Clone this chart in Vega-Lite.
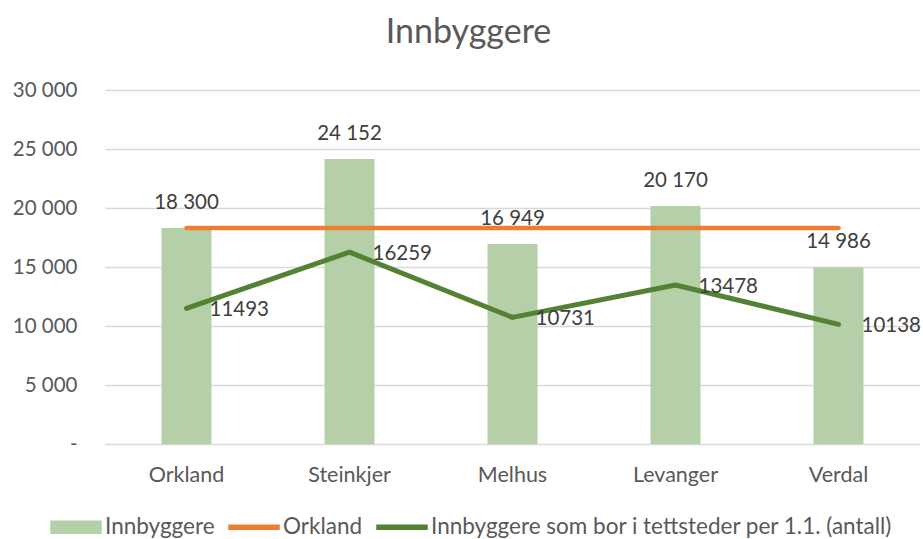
{
  "$schema": "https://vega.github.io/schema/vega-lite/v6.json",
  "autosize": {"type": "none"},
  "width": 815,
  "height": 354,
  "padding": {"left": 105, "top": 90, "right": 3, "bottom": 95},
  "background": "white",
  "config": {
    "font": "Lato",
    "view": {"stroke": null},
    "locale": {"number": {"decimal": ",", "thousands": " ", "grouping": [3], "currency": ["", " kr"]}}
  },
  "title": {
    "text": "Innbyggere",
    "fontSize": 34,
    "fontWeight": "normal",
    "color": "#595959",
    "font": "Lato",
    "anchor": "middle",
    "offset": 30,
    "dx": -44
  },
  "data": {
    "values": [
      {"kommune": "Orkland", "innbyggere": 18300, "orkland": 18300, "tettsted": 11493},
      {"kommune": "Steinkjer", "innbyggere": 24152, "orkland": 18300, "tettsted": 16259},
      {"kommune": "Melhus", "innbyggere": 16949, "orkland": 18300, "tettsted": 10731},
      {"kommune": "Levanger", "innbyggere": 20170, "orkland": 18300, "tettsted": 13478},
      {"kommune": "Verdal", "innbyggere": 14986, "orkland": 18300, "tettsted": 10138}
    ]
  },
  "encoding": {
    "x": {
      "field": "kommune",
      "type": "nominal",
      "sort": null,
      "scale": {"paddingInner": 0, "paddingOuter": 0},
      "axis": {
        "title": null,
        "labelAngle": 0,
        "labelFontSize": 21.5,
        "labelColor": "#595959",
        "labelPadding": 20,
        "ticks": false,
        "domain": false,
        "grid": false
      }
    }
  },
  "layer": [
    {
      "mark": {"type": "bar", "size": 50},
      "encoding": {
        "y": {
          "field": "innbyggere",
          "type": "quantitative",
          "scale": {"domain": [0, 30000], "nice": false},
          "axis": {
            "title": null,
            "values": [0, 5000, 10000, 15000, 20000, 25000, 30000],
            "labelExpr": "datum.value === 0 ? '-' : format(datum.value, ',')",
            "labelFontSize": 20.5,
            "labelColor": "#595959",
            "labelPadding": 28,
            "ticks": false,
            "domain": false,
            "gridColor": "#d9d9d9",
            "gridWidth": 1.5
          }
        },
        "color": {
          "datum": "Innbyggere",
          "scale": {
            "domain": ["Innbyggere", "Orkland", "Innbyggere som bor i tettsteder per 1.1. (antall)"],
            "range": ["#b5cfa8", "#ed7d31", "#548235"]
          },
          "legend": {
            "title": null,
            "orient": "none",
            "direction": "horizontal",
            "legendX": -55,
            "legendY": 411,
            "labelFontSize": 22.5,
            "labelColor": "#595959",
            "labelOffset": 3,
            "labelLimit": 0,
            "columnPadding": 11,
            "symbolSize": 2500,
            "padding": 0,
            "encode": {
              "symbols": {
                "update": {
                  "shape": {"signal": "datum.value === 'Innbyggere' ? 'M-1,-0.24H1V0.24H-1Z' : 'M-1,-0.08H1V0.08H-1Z'"},
                  "size": {"value": 2500},
                  "fill": {"scale": "color", "field": "value"},
                  "stroke": {"value": "transparent"},
                  "opacity": {"value": 1}
                }
              }
            }
          }
        }
      }
    },
    {
      "mark": {"type": "text", "baseline": "middle", "dy": -25, "fontSize": 20.5, "color": "#404040"},
      "encoding": {
        "y": {"field": "innbyggere", "type": "quantitative"},
        "text": {"field": "innbyggere", "type": "quantitative", "format": ","}
      }
    },
    {
      "mark": {"type": "line", "strokeWidth": 4.5, "strokeCap": "round", "color": "#ed7d31"},
      "encoding": {
        "y": {"field": "orkland", "type": "quantitative"},
        "color": {"datum": "Orkland"}
      }
    },
    {
      "mark": {"type": "line", "strokeWidth": 5, "strokeCap": "round", "strokeJoin": "round", "color": "#548235"},
      "encoding": {
        "y": {"field": "tettsted", "type": "quantitative"},
        "color": {"datum": "Innbyggere som bor i tettsteder per 1.1. (antall)"}
      }
    },
    {
      "mark": {"type": "text", "align": "left", "baseline": "middle", "dx": 23, "dy": 2, "fontSize": 20.5, "color": "#404040"},
      "encoding": {
        "y": {"field": "tettsted", "type": "quantitative"},
        "text": {"field": "tettsted", "type": "quantitative", "format": "d"}
      }
    }
  ]
}
